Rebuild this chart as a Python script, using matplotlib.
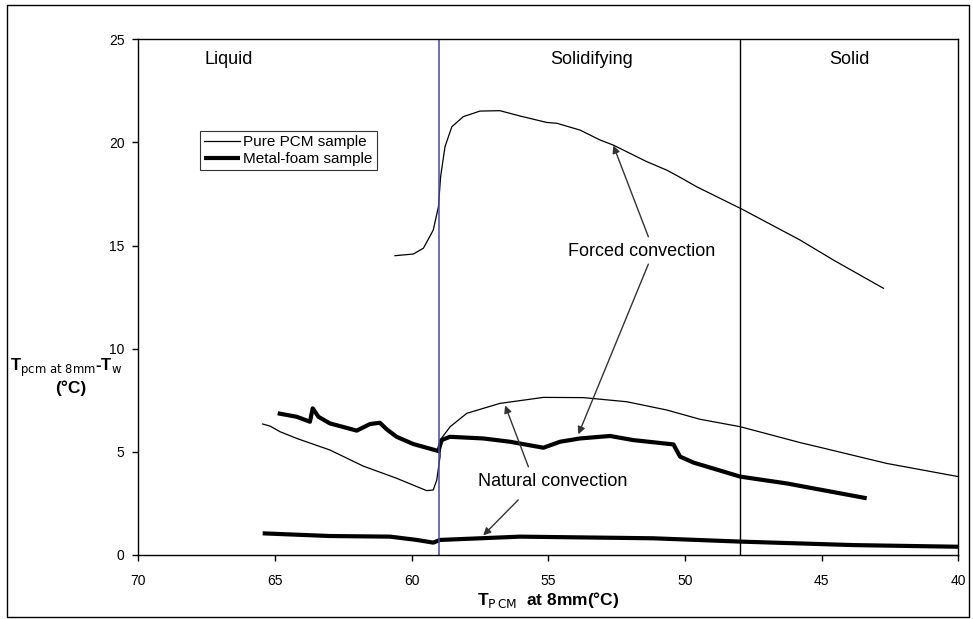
import matplotlib
matplotlib.use("Agg")
import matplotlib.pyplot as plt
from matplotlib.patches import Rectangle

plt.rcParams['font.family'] = ['Liberation Sans', 'DejaVu Sans']

# Pure PCM sample, forced convection
pcm_forced_x = [60.61, 59.94, 59.57, 59.21, 59.02, 58.94, 58.78, 58.53, 58.11, 57.50, 56.77,
                56.03, 55.06, 54.69, 53.84, 53.11, 52.62, 51.40, 50.67, 50.18, 49.57, 47.92,
                45.79, 44.57, 42.74]
pcm_forced_y = [14.51, 14.59, 14.87, 15.75, 16.88, 18.34, 19.79, 20.76, 21.25, 21.52, 21.54,
                21.28, 20.97, 20.93, 20.60, 20.12, 19.87, 19.07, 18.66, 18.31, 17.85, 16.77,
                15.27, 14.30, 12.93]

# Pure PCM sample, natural convection
pcm_natural_x = [65.45, 65.18, 64.82, 64.20, 62.99, 61.77, 60.55, 59.45, 59.21, 59.08, 58.96,
                 58.96, 58.59, 57.98, 56.77, 55.18, 53.72, 52.13, 50.67, 49.45, 47.98, 45.79,
                 45.06, 42.62, 40.0]
pcm_natural_y = [6.35, 6.25, 5.98, 5.65, 5.09, 4.31, 3.72, 3.12, 3.15, 3.64, 4.77,
                 5.57, 6.22, 6.87, 7.35, 7.64, 7.63, 7.43, 7.03, 6.58, 6.22, 5.45,
                 5.22, 4.44, 3.80]

# Metal-foam sample, forced convection
foam_forced_x = [64.90, 64.20, 63.72, 63.62, 63.41, 62.99, 62.01, 61.52, 61.16, 60.91, 60.55,
                 59.94, 59.02, 58.90, 58.60, 57.38, 56.40, 55.18, 54.57, 53.84, 53.11, 52.74,
                 51.89, 50.42, 50.18, 49.69, 47.98, 46.28, 43.35]
foam_forced_y = [6.87, 6.70, 6.46, 7.11, 6.70, 6.38, 6.03, 6.35, 6.41, 6.09, 5.73,
                 5.38, 5.04, 5.57, 5.73, 5.65, 5.49, 5.20, 5.49, 5.65, 5.73, 5.77,
                 5.57, 5.36, 4.77, 4.48, 3.80, 3.47, 2.75]

# Metal-foam sample, natural convection
foam_natural_x = [65.45, 62.99, 60.79, 59.81, 59.21, 58.96, 56.03, 51.16, 47.98, 43.84, 40.0]
foam_natural_y = [1.05, 0.92, 0.89, 0.73, 0.60, 0.73, 0.89, 0.81, 0.65, 0.48, 0.40]

x_ticks = [70, 65, 60, 55, 50, 45, 40]
y_ticks = [0, 5, 10, 15, 20, 25]
phase_bounds = [59, 48]
phase_labels = ['Liquid', 'Solidifying', 'Solid']
phase_label_x = [66.7, 53.4, 44.0]

fig = plt.figure(figsize=(9.73, 6.19), dpi=100)
ax = fig.add_axes([138.3 / 973, 1 - 555 / 619, (958.3 - 138.3) / 973, (555 - 39.3) / 619])

thin = 0.9
thick = 3.0
ax.plot(pcm_forced_x, pcm_forced_y, color='black', lw=thin, label='Pure PCM sample')
ax.plot(foam_forced_x, foam_forced_y, color='black', lw=thick, label='Metal-foam sample',
        solid_capstyle='butt')
ax.plot(pcm_natural_x, pcm_natural_y, color='black', lw=thin)
ax.plot(foam_natural_x, foam_natural_y, color='black', lw=thick, solid_capstyle='butt')

ax.axvline(phase_bounds[0], color='#4848a8', lw=1.1)
ax.axvline(phase_bounds[1], color='black', lw=1.0)

ax.set_xlim(70, 40)
ax.set_ylim(0, 25)
ax.set_xticks(x_ticks)
ax.set_yticks(y_ticks)
ax.tick_params(direction='out', length=4, width=1, labelsize=10, pad=6)
ax.tick_params(axis='x', pad=10)
for s in ax.spines.values():
    s.set_linewidth(1.0)

for lab, xx in zip(phase_labels, phase_label_x):
    ax.text(xx, 24.0, lab, ha='center', va='center', fontsize=13)

leg = ax.legend(loc='upper left', bbox_to_anchor=(0.075, 0.822), fontsize=11,
                frameon=True, fancybox=False, edgecolor='black', handlelength=2.4,
                handletextpad=0.2, borderpad=0.25, labelspacing=0.2, borderaxespad=0)
leg.get_frame().set_linewidth(0.8)

ax.text(51.6, 14.7, 'Forced convection', ha='center', va='center', fontsize=13)
ax.text(54.85, 3.55, 'Natural convection', ha='center', va='center', fontsize=13)

arrow = dict(arrowstyle='-|>', color='#333333', lw=1.0, mutation_scale=11, shrinkA=0, shrinkB=0)
ax.annotate('', xy=(52.62, 19.85), xytext=(51.34, 15.43), arrowprops=arrow)
ax.annotate('', xy=(53.90, 5.85), xytext=(51.34, 14.10), arrowprops=arrow)
ax.annotate('', xy=(56.58, 7.25), xytext=(55.73, 4.28), arrowprops=arrow)
ax.annotate('', xy=(57.38, 0.95), xytext=(56.10, 2.67), arrowprops=arrow)

fig.text(548 / 973, 1 - 600 / 619, r'T$_{\mathrm{P\,CM}}$  at 8mm(°C)', ha='center', va='center',
         fontsize=12.5, fontweight='bold')
fig.text(66 / 973, 1 - 368 / 619, r'T$_{\mathrm{pcm\ at\ 8mm}}$-T$_{\mathrm{w}}$', ha='center',
         va='center', fontsize=12, fontweight='bold')
fig.text(71 / 973, 1 - 388 / 619, '(°C)', ha='center', va='center', fontsize=12.5, fontweight='bold')

fig.patches.append(Rectangle((7 / 973, 2 / 619), 962 / 973, 612 / 619, transform=fig.transFigure,
                             fill=False, edgecolor='black', lw=1.0))

fig.savefig('out.png', dpi=100)
